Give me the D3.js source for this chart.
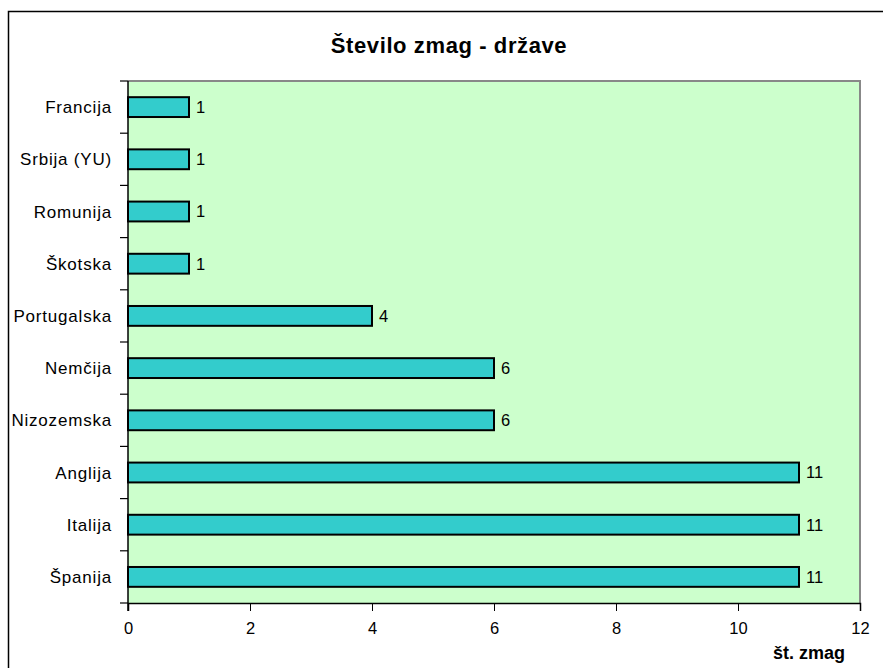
<!DOCTYPE html>
<html>
<head>
<meta charset="utf-8">
<script src="https://cdn.jsdelivr.net/npm/d3@7"></script>
<style>
  body { margin: 0; background: #fff; }
  svg { display: block; font-family: Arial, "Liberation Sans", sans-serif; }
</style>
</head>
<body>
<div id="chart"></div>
<script>
// podatki
const countries = ['Francija', 'Srbija (YU)', 'Romunija', 'Škotska', 'Portugalska', 'Nemčija', 'Nizozemska', 'Anglija', 'Italija', 'Španija']
const wins = [1, 1, 1, 1, 4, 6, 6, 11, 11, 11]
const xTicks = [0, 2, 4, 6, 8, 10, 12]

const width = 883, height = 668
const plot = { left: 128, top: 81, right: 860, bottom: 603 }

const svg = d3.select('#chart')
  .append('svg')
  .attr('width', width)
  .attr('height', height)

// zunanji okvir
svg.append('rect')
  .attr('x', 8.5).attr('y', 11.5)
  .attr('width', width + 20).attr('height', height + 20)
  .attr('fill', '#fff')
  .attr('stroke', '#000')
  .attr('stroke-width', 1.5)

// naslov
svg.append('text')
  .attr('x', 449).attr('y', 53)
  .attr('text-anchor', 'middle')
  .attr('font-size', 22)
  .attr('letter-spacing', 0.6)
  .attr('font-weight', 'bold')
  .text('Število zmag - države')

const xScale = d3.scaleLinear()
  .domain([0, 12])
  .range([plot.left, plot.right])

const yScale = d3.scaleBand()
  .domain(countries)
  .range([plot.top, plot.bottom])
  .paddingInner(0.62)
  .paddingOuter(0.31)

// ozadje
svg.append('rect')
  .attr('x', plot.left).attr('y', plot.top)
  .attr('width', plot.right - plot.left)
  .attr('height', plot.bottom - plot.top)
  .attr('fill', '#ccffcc')

// siv rob zgoraj in desno
svg.append('path')
  .attr('d', `M${plot.left},${plot.top}H${plot.right}V${plot.bottom}`)
  .attr('fill', 'none')
  .attr('stroke', '#888')
  .attr('stroke-width', 2)

// stolpci
svg.selectAll('.bar')
  .data(countries)
  .join('rect')
  .attr('class', 'bar')
  .attr('x', xScale(0))
  .attr('y', d => yScale(d))
  .attr('width', (d, i) => xScale(wins[i]) - xScale(0))
  .attr('height', yScale.bandwidth())
  .attr('fill', '#33cccc')
  .attr('stroke', '#000')
  .attr('stroke-width', 2)

// oznake vrednosti
svg.selectAll('.val')
  .data(countries)
  .join('text')
  .attr('class', 'val')
  .attr('x', (d, i) => xScale(wins[i]) + 7)
  .attr('y', d => yScale(d) + yScale.bandwidth() / 2)
  .attr('dy', '0.36em')
  .attr('font-size', 16.5)
  .text((d, i) => wins[i])

// os X
const xAxis = d3.axisBottom(xScale)
  .tickValues(xTicks)
  .tickSize(8)
  .tickPadding(11)
svg.append('g')
  .attr('transform', `translate(0,${plot.bottom})`)
  .call(xAxis)
  .call(g => g.select('.domain').attr('stroke-width', 1.5))
  .call(g => g.selectAll('text').attr('font-size', 16.5).attr('fill', '#000').attr('font-family', 'Arial, "Liberation Sans", sans-serif'))

// os Y - kljukice med kategorijami
const yLines = d3.range(countries.length + 1).map(i => plot.top + i * (plot.bottom - plot.top) / countries.length)
svg.append('line')
  .attr('x1', plot.left).attr('x2', plot.left)
  .attr('y1', plot.top).attr('y2', plot.bottom + 8)
  .attr('stroke', '#000').attr('stroke-width', 1.5)
svg.selectAll('.ytick')
  .data(yLines)
  .join('line')
  .attr('class', 'ytick')
  .attr('x1', plot.left - 8).attr('x2', plot.left)
  .attr('y1', d => d).attr('y2', d => d)
  .attr('stroke', '#000').attr('stroke-width', 1.2)

svg.selectAll('.ylab')
  .data(countries)
  .join('text')
  .attr('class', 'ylab')
  .attr('x', 112)
  .attr('y', d => yScale(d) + yScale.bandwidth() / 2)
  .attr('dy', '0.36em')
  .attr('text-anchor', 'end')
  .attr('font-size', 17)
  .attr('letter-spacing', 0.8)
  .text(d => d)

// naslov osi
svg.append('text')
  .attr('x', 845).attr('y', 659)
  .attr('text-anchor', 'end')
  .attr('font-size', 18)
  .attr('font-weight', 'bold')
  .text('št. zmag')
</script>
</body>
</html>
